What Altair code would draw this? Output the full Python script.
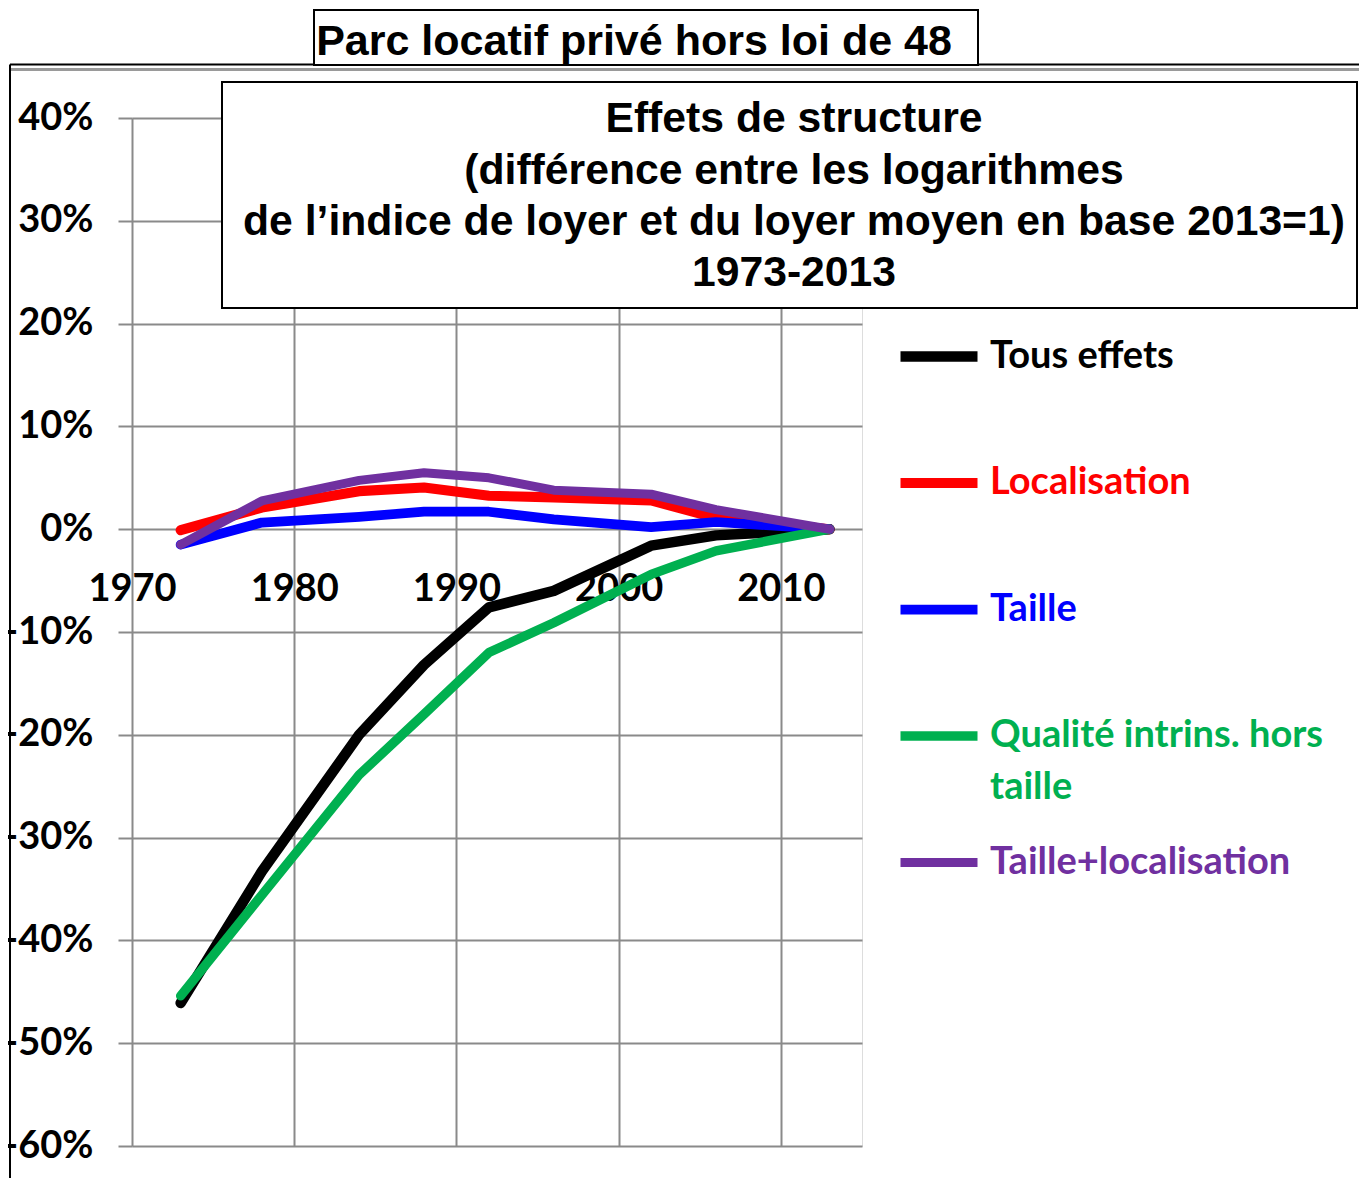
import altair as alt
import pandas as pd

# ---------------- data ----------------
years = [1973, 1978, 1984, 1988, 1992, 1996, 2002, 2006, 2013]
series_names = ["Tous effets", "Localisation", "Taille",
                "Qualité intrins. hors taille", "Taille+localisation"]
tous_effets = [-46.1, -33.3, -20.0, -13.2, -7.6, -6.0, -1.6, -0.6, 0.0]
localisation = [-0.1, 2.1, 3.7, 4.05, 3.25, 3.1, 2.8, 1.1, 0.0]
taille = [-1.5, 0.65, 1.2, 1.7, 1.7, 0.95, 0.2, 0.7, 0.0]
qualite = [-45.4, -35.6, -23.9, -18.0, -12.0, -9.1, -4.4, -2.1, 0.0]
taille_loc = [-1.5, 2.75, 4.75, 5.5, 5.0, 3.8, 3.4, 1.9, 0.0]
series_values = [tous_effets, localisation, taille, qualite, taille_loc]
colors = ["#000000", "#FF0000", "#0000FF", "#00B050", "#7030A0"]
widths = [10.5, 9, 9, 8, 4]
y_ticks = [-60, -50, -40, -30, -20, -10, 0, 10, 20, 30, 40]
x_ticks = [1970, 1980, 1990, 2000, 2010]
title_text = ["Parc locatif privé hors loi de 48"]
subtitle_lines = ["Effets de structure",
                  "(différence entre les logarithmes",
                  "de l’indice de loyer et du loyer moyen en base 2013=1)",
                  "1973-2013"]
# the green legend label wraps onto a second line
legend_first_line = "Qualité intrins. hors"
legend_second_line = ["taille"]

rows = []
for name, vals in zip(series_names, series_values):
    for yr, v in zip(years, vals):
        rows.append({"serie": name, "annee": yr, "valeur": v})
df = pd.DataFrame(rows)

GRID = "#8a8a8a"
LABEL_FONT = "Lato"

x_enc = alt.X("annee:Q",
              scale=alt.Scale(domain=[1970, 2015], nice=False, zero=False),
              axis=alt.Axis(values=x_ticks, format="d", title=None, grid=True,
                            gridColor=GRID, gridWidth=2, ticks=False, tickSize=0,
                            domain=False, offset=-617, labelBaseline="top",
                            labelPadding=41, labelFont=LABEL_FONT,
                            labelFontWeight="bold", labelFontSize=38,
                            labelColor="black", labelFlush=False,
                            labelOverlap=False))
y_enc = alt.Y("valeur:Q",
              scale=alt.Scale(domain=[-60, 40], nice=False, zero=False),
              axis=alt.Axis(values=y_ticks, labelExpr="datum.value + '%'",
                            title=None, grid=True, gridColor=GRID, gridWidth=2,
                            ticks=True, tickColor=GRID, tickWidth=2, tickSize=14,
                            domain=False, labelPadding=25, labelFont=LABEL_FONT,
                            labelFontWeight="bold", labelFontSize=38,
                            labelColor="black", labelFlush=False,
                            labelOverlap=False))

legend = alt.Legend(title=None, orient="none", legendX=763, legendY=200,
                    padding=0, symbolType="stroke", symbolSize=5929,
                    clipHeight=77, rowPadding=49.5,
                    labelFont=LABEL_FONT, labelFontWeight="bold",
                    labelFontSize=38, labelOffset=7, labelLimit=0,
                    labelColor={"expr": "scale('color', datum.value)"},
                    labelExpr="datum.label == 'Qualité intrins. hors taille' ? "
                              f"'{legend_first_line}' : datum.label")

lines = alt.Chart(df).mark_line(strokeCap="round", strokeJoin="round").encode(
    x=x_enc,
    y=y_enc,
    color=alt.Color("serie:N", scale=alt.Scale(domain=series_names, range=colors),
                    legend=legend),
    strokeWidth=alt.StrokeWidth("serie:N",
                                scale=alt.Scale(domain=series_names, range=widths),
                                legend=legend),
)

legend_wrap = alt.Chart(pd.DataFrame({"t": legend_second_line})).mark_text(
    font=LABEL_FONT, fontWeight="bold", fontSize=38, color=colors[3],
    align="left", baseline="middle").encode(
    x=alt.value(858), y=alt.value(670), text="t:N")

one = pd.DataFrame({"k": [0]})

frame_top = alt.Chart(one).mark_rule(color="black", strokeWidth=2).encode(
    x=alt.value(-122), x2=alt.value(1227), y=alt.value(-53.5))
frame_top2 = alt.Chart(one).mark_rule(color="#9a9a9a", strokeWidth=3).encode(
    x=alt.value(-122), x2=alt.value(1227), y=alt.value(-48.5))
frame_left = alt.Chart(one).mark_rule(color="black", strokeWidth=2).encode(
    x=alt.value(-122), y=alt.value(-53.5), y2=alt.value(1060))

title_box = alt.Chart(one).mark_rect(fill="white", stroke="black", strokeWidth=2).encode(
    x=alt.value(182), x2=alt.value(846), y=alt.value(-108), y2=alt.value(-53))
title = alt.Chart(pd.DataFrame({"t": title_text})).mark_text(
    font="Liberation Sans", fontWeight="bold", fontSize=43, color="black",
    align="center", baseline="middle").encode(
    x=alt.value(502), y=alt.value(-76), text="t:N")

sub_box = alt.Chart(one).mark_rect(fill="white", stroke="black", strokeWidth=2).encode(
    x=alt.value(90), x2=alt.value(1225), y=alt.value(-36), y2=alt.value(190))
sub_layers = []
for line_txt, yy in zip(subtitle_lines, [1, 53, 104, 155]):
    sub_layers.append(
        alt.Chart(pd.DataFrame({"t": [line_txt]})).mark_text(
            font="Liberation Sans", fontWeight="bold", fontSize=42.7, color="black",
            align="center", baseline="middle").encode(
            x=alt.value(662), y=alt.value(yy), text="t:N"))

chart = alt.layer(
    frame_top, frame_top2, frame_left, sub_box, *sub_layers, title_box, title,
    lines, legend_wrap
).properties(
    width=730, height=1028,
    padding={"left": 124, "top": 110, "right": 497, "bottom": 32},
    autosize=alt.AutoSizeParams(type="none"),
).configure_view(strokeWidth=0, stroke="transparent").configure(background="white")

chart.save("out.html", embed_options={"renderer": "svg", "actions": False})
